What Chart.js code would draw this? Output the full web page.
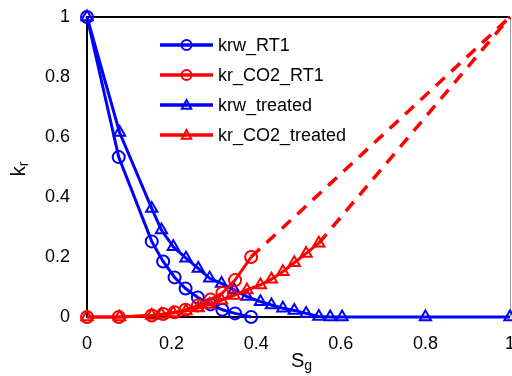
<!DOCTYPE html>
<html><head><meta charset="utf-8">
<script src="https://cdn.jsdelivr.net/npm/chart.js@4/dist/chart.umd.min.js"></script>
<style>html,body{margin:0;padding:0;overflow:hidden;background:#fff}canvas{display:block}</style>
</head><body>
<canvas id="c" width="540" height="376" style="width:540px;height:376px"></canvas>
<script>
// ---- data ----
const sgRT1 = [0, 0.075, 0.153, 0.18, 0.207, 0.233, 0.262, 0.292, 0.32, 0.35, 0.388];
const krwRT1 = [1, 0.533, 0.252, 0.185, 0.132, 0.095, 0.065, 0.042, 0.024, 0.012, 0.0];
const krCO2RT1 = [0, 0, 0.005, 0.01, 0.016, 0.024, 0.038, 0.058, 0.08, 0.123, 0.2];
const sgTreated = [0, 0.077, 0.153, 0.176, 0.204, 0.234, 0.263, 0.29, 0.318, 0.348, 0.378, 0.41, 0.436, 0.463, 0.49, 0.518, 0.548, 0.575, 0.603, 0.8, 1.0];
const krwTreated = [1, 0.615, 0.362, 0.29, 0.234, 0.196, 0.162, 0.129, 0.112, 0.09, 0.068, 0.051, 0.04, 0.029, 0.022, 0.012, 0.002, 0, 0, 0, 0];
const sgCO2Treated = [0, 0.077, 0.153, 0.176, 0.204, 0.234, 0.263, 0.29, 0.318, 0.348, 0.378, 0.41, 0.436, 0.463, 0.49, 0.518, 0.548];
const krCO2Treated = [0, 0, 0.005, 0.008, 0.013, 0.02, 0.03, 0.042, 0.056, 0.072, 0.09, 0.107, 0.126, 0.151, 0.181, 0.212, 0.246];
const dashRT1X = [0.388, 1.0];
const dashRT1Y = [0.2, 1.0];
const dashTreatedX = [0.548, 1.0];
const dashTreatedY = [0.246, 1.0];
const seriesNames = ['krw_RT1', 'kr_CO2_RT1', 'krw_treated', 'kr_CO2_treated'];
const xTicks = [0, 0.2, 0.4, 0.6, 0.8, 1];
const xTickLabels = ['0', '0.2', '0.4', '0.6', '0.8', '1'];
const yTicks = [0, 0.2, 0.4, 0.6, 0.8, 1];
const yTickLabels = ['0', '0.2', '0.4', '0.6', '0.8', '1'];
const xTitle = ['S', 'g'];
const yTitle = ['k', 'r'];

const BLUE = '#0000ff', RED = '#ff0000';
const FONT = "'Liberation Sans', Arial, sans-serif";
const pts = (xs, ys) => xs.map((x, i) => ({x: x, y: ys[i]}));

const legendItems = [
  {name: seriesNames[0], color: BLUE, style: 'circle'},
  {name: seriesNames[1], color: RED, style: 'circle'},
  {name: seriesNames[2], color: BLUE, style: 'triangle'},
  {name: seriesNames[3], color: RED, style: 'triangle'}
];

function marker(ctx, style, x, y, r) {
  ctx.beginPath();
  if (style === 'circle') {
    ctx.arc(x, y, r, 0, Math.PI * 2);
  } else {
    ctx.moveTo(x, y - r);
    ctx.lineTo(x + r * 0.95, y + r * 0.75);
    ctx.lineTo(x - r * 0.95, y + r * 0.75);
    ctx.closePath();
  }
  ctx.stroke();
}

const framePlugin = {
  id: 'frame',
  beforeDatasetsDraw(chart) {
    const {ctx, chartArea: a} = chart;
    ctx.save();
    ctx.strokeStyle = '#000';
    ctx.lineWidth = 2;
    ctx.beginPath();
    ctx.moveTo(a.right, a.top); ctx.lineTo(a.left, a.top);
    ctx.lineTo(a.left, a.bottom); ctx.lineTo(a.right, a.bottom);
    ctx.stroke();
    ctx.strokeStyle = '#999';
    ctx.lineWidth = 1;
    ctx.beginPath(); ctx.moveTo(a.right + 0.5, a.top); ctx.lineTo(a.right + 0.5, a.bottom); ctx.stroke();
    ctx.restore();
  },
  afterDraw(chart) {
    const {ctx, chartArea: a} = chart;
    ctx.save();
    // legend
    ctx.font = '18px ' + FONT;
    ctx.textBaseline = 'middle';
    ctx.textAlign = 'left';
    legendItems.forEach((it, i) => {
      const y = 45 + i * 30;
      ctx.strokeStyle = it.color;
      ctx.lineWidth = 3.5;
      ctx.beginPath(); ctx.moveTo(160, y); ctx.lineTo(213, y); ctx.stroke();
      ctx.lineWidth = 2;
      marker(ctx, it.style, 186.5, y, 5);
      ctx.fillStyle = '#000';
      ctx.fillText(it.name, 218, y + 1);
    });
    // x title
    ctx.textBaseline = 'alphabetic';
    ctx.fillStyle = '#000';
    ctx.font = '20px ' + FONT;
    const wS = ctx.measureText(xTitle[0]).width;
    ctx.font = '14px ' + FONT;
    const wg = ctx.measureText(xTitle[1]).width;
    const xs = (a.left + a.right) / 2 + 3 - (wS + wg) / 2;
    ctx.font = '20px ' + FONT;
    ctx.fillText(xTitle[0], xs, 367);
    ctx.font = '14px ' + FONT;
    ctx.fillText(xTitle[1], xs + wS, 370);
    // y title
    ctx.save();
    ctx.translate(25, 169);
    ctx.rotate(-Math.PI / 2);
    ctx.font = '20px ' + FONT;
    const wk = ctx.measureText(yTitle[0]).width;
    ctx.font = '14px ' + FONT;
    const wr = ctx.measureText(yTitle[1]).width;
    const s0 = -(wk + wr) / 2;
    ctx.font = '20px ' + FONT;
    ctx.fillText(yTitle[0], s0, 0);
    ctx.font = '14px ' + FONT;
    ctx.fillText(yTitle[1], s0 + wk, 3);
    ctx.restore();
    ctx.restore();
  }
};

const lineDs = (label, data, color, style, order) => ({
  label, data, borderColor: color, backgroundColor: 'rgba(0,0,0,0)',
  borderWidth: 3, pointStyle: style, pointRadius: style === 'triangle' ? 6.5 : 6,
  pointBorderWidth: 2, pointBorderColor: color, pointBackgroundColor: 'rgba(0,0,0,0)',
  pointHoverRadius: 6, tension: 0, clip: false, order
});

const zeroPad = s => { s.paddingTop = 0; s.paddingBottom = 0; s.paddingLeft = 0; s.paddingRight = 0; };

new Chart(document.getElementById('c'), {
  type: 'line',
  data: {
    datasets: [
      lineDs(seriesNames[3], pts(sgCO2Treated, krCO2Treated), RED, 'triangle', 1),
      lineDs(seriesNames[1], pts(sgRT1, krCO2RT1), RED, 'circle', 2),
      lineDs(seriesNames[2], pts(sgTreated, krwTreated), BLUE, 'triangle', 3),
      lineDs(seriesNames[0], pts(sgRT1, krwRT1), BLUE, 'circle', 4),
      {label: 'dashRT1', data: pts(dashRT1X, dashRT1Y), borderColor: RED, borderWidth: 3.5,
       borderDash: [12, 9], pointRadius: 0, clip: false, order: 0},
      {label: 'dashTreated', data: pts(dashTreatedX, dashTreatedY), borderColor: RED, borderWidth: 3.5,
       borderDash: [12, 9], pointRadius: 0, clip: false, order: 0}
    ]
  },
  options: {
    responsive: false,
    devicePixelRatio: 1,
    animation: false,
    layout: {padding: {left: 0, top: 17, right: 30, bottom: 0}},
    plugins: {legend: {display: false}, tooltip: {enabled: false}},
    font: {family: FONT},
    scales: {
      x: {
        type: 'linear', min: 0, max: 1,
        grid: {display: false, drawTicks: false}, border: {display: false},
        afterBuildTicks: s => { s.ticks = xTicks.map(v => ({value: v})); },
        afterFit: s => { s.height = 59; zeroPad(s); },
        ticks: {padding: 16, maxRotation: 0, color: '#000', font: {size: 18, family: FONT},
                callback: (v) => xTickLabels[xTicks.indexOf(v)]}
      },
      y: {
        type: 'linear', min: 0, max: 1,
        grid: {display: false, drawTicks: false}, border: {display: false},
        afterBuildTicks: s => { s.ticks = yTicks.map(v => ({value: v})); },
        afterFit: s => { s.width = 87; zeroPad(s); },
        ticks: {padding: 17, color: '#000', font: {size: 18, family: FONT},
                callback: (v) => yTickLabels[yTicks.indexOf(v)]}
      }
    }
  },
  plugins: [framePlugin]
});
</script>
</body></html>
